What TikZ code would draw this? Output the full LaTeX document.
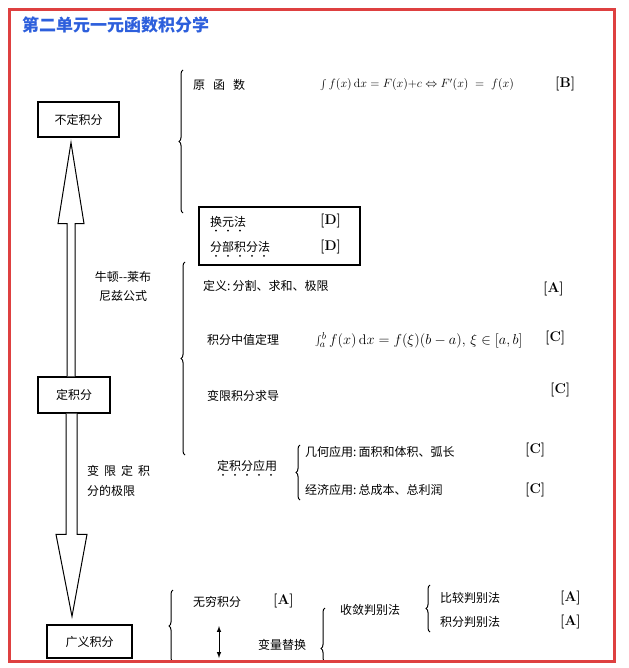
\documentclass[tikz,border=0pt]{standalone}
\usepackage{fontspec}
\newfontfamily\cjk{Noto Sans CJK SC}
\usetikzlibrary{calc,decorations.pathreplacing}
\definecolor{framered}{RGB}{222,64,64}
\definecolor{titleblue}{RGB}{45,95,220}
\tikzstyle{box}=[draw, line width=1.2pt, inner sep=0pt, font=\cjk\fontsize{12}{14}\selectfont]
\tikzstyle{txt}=[anchor=west, inner sep=0pt, font=\cjk\fontsize{12}{14}\selectfont]
\tikzstyle{grade}=[anchor=west, inner sep=0pt, font=\bfseries\fontsize{14}{16}\selectfont]
\tikzstyle{formula}=[anchor=west, inner sep=0pt]
\tikzstyle{brc}=[decorate, decoration={brace, amplitude=4pt}, line width=1pt]
\tikzstyle{hollow}=[draw, line width=1pt, fill=white, line join=miter]
\newcommand{\emdots}[2]{\foreach \i in {1,...,#2} \fill ($(#1.south west)+(-6+12*\i,3)$) circle (1pt);}

\begin{document}
\begin{tikzpicture}[x=1pt, y=-1pt]
    \useasboundingbox (0,0) rectangle (628,668);
    \node[anchor=west, inner sep=0pt, text=titleblue, font=\cjk\bfseries\fontsize{17}{19}\selectfont] (title) at (22,25) {第二单元一元函数积分学};

    % main line
    \node[box, minimum width=81pt, minimum height=35pt] (bu) at (78.5,119.5) {不定积分};
    \node[box, minimum width=72pt, minimum height=36pt] (ding) at (74,395) {定积分};
    \node[box, minimum width=85pt, minimum height=33pt] (gy) at (89.5,641.5) {广义积分};
    \coordinate (ax) at (71,0);
    \draw[hollow] ($(ding.north -| ax)+(-4,0)$) -- ($(bu.south -| ax)+(-4,86)$) -- ($(bu.south -| ax)+(-13,86)$)
        -- ($(bu.south -| ax)+(0,5)$) -- ($(bu.south -| ax)+(13,86)$) -- ($(bu.south -| ax)+(4,86)$) -- ($(ding.north -| ax)+(4,0)$);
    \draw[hollow] ($(ding.south -| ax)+(-5,0)$) -- ($(gy.north -| ax)+(-5,-90)$) -- ($(gy.north -| ax)+(-15,-90)$)
        -- ($(gy.north -| ax)+(1,-8)$) -- ($(gy.north -| ax)+(16,-90)$) -- ($(gy.north -| ax)+(6,-90)$) -- ($(ding.south -| ax)+(6,0)$);
    \node[txt, anchor=center, align=center, font=\cjk\fontsize{12}{19}\selectfont] (nl) at (123,286) {牛顿--莱布\\尼兹公式};
    \node[txt, align=left, font=\cjk\fontsize{12}{20}\selectfont] (bx) at (87,481) {变\hspace{5pt}限\hspace{5pt}定\hspace{5pt}积\\分的极限};

    % indefinite integral
    \draw[brc] (183,213) -- (183,70);
    \node[txt] (yuan) at (193,85) {原\hspace{8pt}函\hspace{8pt}数};
    \node[formula, font=\fontsize{12}{14}\selectfont] (yf) at (320,85) {$\int f(x)\,\mathrm{d}x = F(x){+}c \Leftrightarrow F'(x)\;=\;f(x)$};
    \node[grade] (gb) at (555,84) {[B]};
    \node[draw, line width=1.2pt, minimum width=161pt, minimum height=58pt] (meth) at (279.5,236) {};
    \node[txt] (huan) at (210,222) {换元法};
    \node[grade] (gd1) at (320,221) {[D]};
    \node[txt] (fenbu) at (210,247) {分部积分法};
    \node[grade] (gd2) at (320,247) {[D]};
    \emdots{huan}{3}
    \emdots{fenbu}{5}

    % definite integral
    \draw[brc] (185,455) -- (185,262);
    \node[txt] (dy) at (203,286) {定义:\,分割、求和、极限};
    \node[grade] (ga1) at (543,289) {[A]};
    \node[txt] (zz) at (207,340) {积分中值定理};
    \node[formula, font=\fontsize{14}{16}\selectfont] (zf) at (315,340) {$\int_a^b f(x)\,\mathrm{d}x = f(\xi)(b-a),\,\xi\in[a,b]$};
    \node[grade] (gc1) at (545,338) {[C]};
    \node[txt] (bxq) at (207,396) {变限积分求导};
    \node[grade] (gc2) at (550,390) {[C]};
    \node[txt] (yy) at (217,466) {定积分应用};
    \emdots{yy}{5}
    \draw[brc] (300,500) -- (300,445);
    \node[txt] (jh) at (305,452) {几何应用:\,面积和体积、弧长};
    \node[grade] (gc3) at (525,450) {[C]};
    \node[txt] (jj) at (305,490) {经济应用:\,总成本、总利润};
    \node[grade] (gc4) at (525,490) {[C]};

    % improper integral
    \draw[brc] (173,662) -- (173,590);
    \node[txt] (wq) at (193,602) {无穷积分};
    \node[grade] (ga2) at (273,601) {[A]};
    \coordinate (tha) at (219,626);
    \coordinate (thb) at (219,658);
    \draw[latex-latex, line width=1pt] (tha) -- (thb);
    \node[txt] (bl) at (258,645) {变量替换};
    \draw[brc, decoration={aspect=0.25}] (325,662) -- (325,608);
    \node[txt] (sl) at (340,610) {收敛判别法};
    \draw[brc] (430,632) -- (430,585);
    \node[txt] (bj) at (440,598) {比较判别法};
    \node[grade] (ga3) at (560,598) {[A]};
    \node[txt] (jf) at (440,622) {积分判别法};
    \node[grade] (ga4) at (560,622) {[A]};

    \draw[framered, line width=3pt] (9.5,9.5) rectangle (614,661);
\end{tikzpicture}
\end{document}
